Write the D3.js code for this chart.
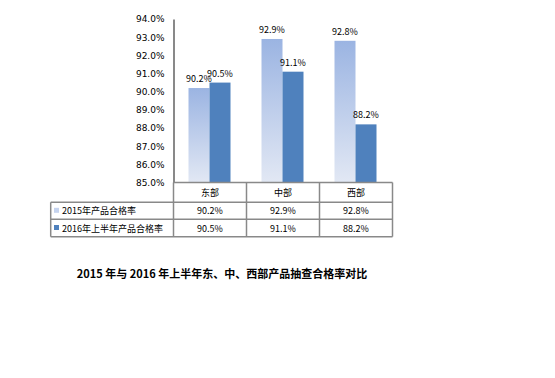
<!DOCTYPE html>
<meta charset="utf-8">
<script src="https://d3js.org/d3.v7.min.js"></script>
<style>
  body { margin: 0; background: #fff; }
  svg text { font-family: "Noto Sans CJK SC", "DejaVu Sans", sans-serif; }
</style>
<body>
<div id="chart"></div>
<script>
// data
var regions = ["东部", "中部", "西部"];
var seriesNames = ["2015年产品合格率", "2016年上半年产品合格率"];
var rate2015 = [90.2, 92.9, 92.8];
var rate2016 = [90.5, 91.1, 88.2];
var yTicks = [85, 86, 87, 88, 89, 90, 91, 92, 93, 94];
var title = "2015 年与 2016 年上半年东、中、西部产品抽查合格率对比";

var svg = d3.select("#chart").append("svg")
    .attr("width", 555)
    .attr("height", 378);

var defs = svg.append("defs");
var grad = defs.append("linearGradient")
    .attr("id", "lightGrad")
    .attr("x1", 0).attr("y1", 0).attr("x2", 0).attr("y2", 1);
grad.append("stop").attr("offset", "0%").attr("stop-color", "#9bb4e2");
grad.append("stop").attr("offset", "100%").attr("stop-color", "#e2e8f4");

// plot box (note: "top" is a reserved window global, so use plotTop)
var plotLeft = 173.5, plotRight = 392.5, plotTop = 19, plotBottom = 182.5;

var x = d3.scaleBand().domain(regions).range([plotLeft, plotRight]);
var y = d3.scaleLinear().domain([85, 94]).range([plotBottom, plotTop]);

// bars
var barW = 21, offset = 15;
var g = svg.append("g");
regions.forEach(function(r, i) {
  var x0 = x(r) + offset;
  g.append("rect")
    .attr("x", x0).attr("y", y(rate2015[i]))
    .attr("width", barW).attr("height", plotBottom - y(rate2015[i]))
    .attr("fill", "url(#lightGrad)");
  g.append("rect")
    .attr("x", x0 + barW).attr("y", y(rate2016[i]))
    .attr("width", barW).attr("height", plotBottom - y(rate2016[i]))
    .attr("fill", "#4f81bd");
  g.append("text")
    .attr("x", x0 + barW / 2).attr("y", y(rate2015[i]) - 6)
    .attr("text-anchor", "middle").style("font-size", "9px")
    .text(rate2015[i].toFixed(1) + "%");
  g.append("text")
    .attr("x", x0 + barW * 1.5).attr("y", y(rate2016[i]) - 6)
    .attr("text-anchor", "middle").style("font-size", "9px")
    .text(rate2016[i].toFixed(1) + "%");
});

// y axis
var yAxis = svg.append("g")
    .attr("transform", "translate(" + plotLeft + ",0)")
    .call(d3.axisLeft(y).tickValues(yTicks).tickSize(0).tickPadding(9)
      .tickFormat(function(d) { return d.toFixed(1) + "%"; }));
yAxis.select(".domain").attr("stroke", "#898989").attr("stroke-width", 2);
yAxis.selectAll("text").style("font-size", "9px").attr("fill", "#000")
    .style("font-family", "\"DejaVu Sans\", sans-serif");

// table
var rowY = [plotBottom, 202.3, 219.3, 236.7];
var tableLeft = 50.7;
var line = function(x1, y1, x2, y2) {
  svg.append("line")
    .attr("x1", x1).attr("y1", y1).attr("x2", x2).attr("y2", y2)
    .attr("stroke", "#898989").attr("stroke-width", 1.5);
};
line(plotLeft, rowY[0], plotRight, rowY[0]);
line(tableLeft, rowY[1], plotRight, rowY[1]);
line(tableLeft, rowY[2], plotRight, rowY[2]);
line(tableLeft, rowY[3], plotRight, rowY[3]);
line(tableLeft, rowY[1], tableLeft, rowY[3]);
line(plotRight, rowY[0], plotRight, rowY[3]);
regions.forEach(function(r) {
  line(x(r), rowY[0], x(r), rowY[3]);
});

regions.forEach(function(r, i) {
  var cx = x(r) + x.bandwidth() / 2;
  svg.append("text").attr("x", cx).attr("y", (rowY[0] + rowY[1]) / 2 + 3.5)
    .attr("text-anchor", "middle").style("font-size", "9px").text(r);
  svg.append("text").attr("x", cx).attr("y", (rowY[1] + rowY[2]) / 2 + 3.5)
    .attr("text-anchor", "middle").style("font-size", "9px").text(rate2015[i].toFixed(1) + "%");
  svg.append("text").attr("x", cx).attr("y", (rowY[2] + rowY[3]) / 2 + 3.5)
    .attr("text-anchor", "middle").style("font-size", "9px").text(rate2016[i].toFixed(1) + "%");
});

var colors = ["#c5d3ee", "#4f81bd"];
seriesNames.forEach(function(s, i) {
  var cy = (rowY[i + 1] + rowY[i + 2]) / 2;
  svg.append("rect").attr("x", 54).attr("y", cy - 3)
    .attr("width", 5).attr("height", 5).attr("fill", colors[i]);
  svg.append("text").attr("x", 62).attr("y", cy + 3.5)
    .style("font-size", "9px").text(s);
});

// title
svg.append("text")
  .attr("x", 222).attr("y", 278)
  .attr("text-anchor", "middle")
  .style("font-size", "11px").style("font-weight", "bold")
  .style("font-family", "\"Noto Sans CJK SC\", serif")
  .text(title);
</script>
</body>
